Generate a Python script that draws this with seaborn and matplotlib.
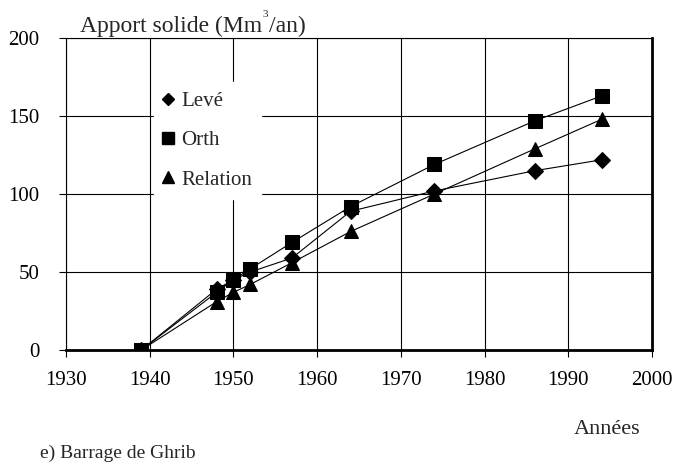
import matplotlib
matplotlib.use("Agg")
import matplotlib.pyplot as plt
from matplotlib.lines import Line2D
import seaborn as sns
import pandas as pd

years = [1939, 1948, 1950, 1952, 1957, 1964, 1974, 1986, 1994]
leve = [0, 39, 45, 50, 59, 89, 102, 115, 122]
orth = [0, 37, 45, 52, 69, 92, 119, 147, 163]
relation = [0, 31, 37, 42, 56, 76, 100, 129, 148]

x_ticks = [1930, 1940, 1950, 1960, 1970, 1980, 1990, 2000]
y_ticks = [0, 50, 100, 150, 200]

sns.set_style("white")
plt.rcParams['font.family'] = ['Liberation Serif', 'DejaVu Serif']

fig = plt.figure(figsize=(6.77, 4.66), dpi=100)
ax = fig.add_axes([0.0975, 0.249, 0.8655, 0.669])

series = [("Levé", leve, "D", 8), ("Orth", orth, "s", 9.5), ("Relation", relation, "^", 9.5)]
handles = []
for name, vals, mk, ms in series:
    df = pd.DataFrame({"Year": years, "Val": vals})
    sns.lineplot(data=df, x="Year", y="Val", ax=ax, color="black", lw=0.8,
                 marker=mk, markersize=ms, markeredgecolor="black", zorder=3)
    handles.append(Line2D([], [], ls="none", marker=mk, color="black",
                          markersize=ms - 1.5, label=name))

ax.set_xlim(1930, 2000)
ax.set_ylim(0, 200)
ax.set_xticks(x_ticks)
ax.set_yticks(y_ticks)
ax.grid(True, color="black", lw=0.8)
ax.set_xlabel("")
ax.set_ylabel("")
ax.tick_params(axis="both", labelsize=15, direction="out", length=5, width=0.8,
               bottom=True, left=True, colors="black")
ax.tick_params(axis="x", pad=10)
ax.tick_params(axis="y", pad=14)
for s in ["left", "top"]:
    ax.spines[s].set_color("black")
    ax.spines[s].set_linewidth(0.8)
for s in ["right", "bottom"]:
    ax.spines[s].set_color("black")
    ax.spines[s].set_linewidth(2)

leg = ax.legend(handles=handles, loc="upper left", bbox_to_anchor=(0.15, 0.86),
                frameon=True, fancybox=False, fontsize=15, handletextpad=0.35,
                labelspacing=0.95, borderpad=0.45, handlelength=0.5,
                borderaxespad=0)
leg.get_frame().set_edgecolor("white")
leg.get_frame().set_facecolor("white")
leg.get_frame().set_alpha(1)
leg.set_zorder(5)

# y label with a small raised "3"
t1 = fig.text(80 / 677, 1 - 37 / 466, "Apport solide (Mm", fontsize=17,
              va="bottom", ha="left")
t2 = ax.annotate("3", xy=(1, 1), xycoords=t1, xytext=(0.5, 4),
                 textcoords="offset points", fontsize=8, va="top", ha="left",
                 annotation_clip=False)
ax.annotate("/an)", xy=(1, 0), xycoords=(t2, t1), xytext=(0.5, 0),
            textcoords="offset points", fontsize=17, va="bottom", ha="left",
            annotation_clip=False)

fig.text(1 - 37 / 677, 1 - 430 / 466, "Années", fontsize=16, va="center", ha="right")
fig.text(40 / 677, 1 - 453 / 466, "e) Barrage de Ghrib", fontsize=14, va="center", ha="left")

fig.savefig("out.png", dpi=100)
